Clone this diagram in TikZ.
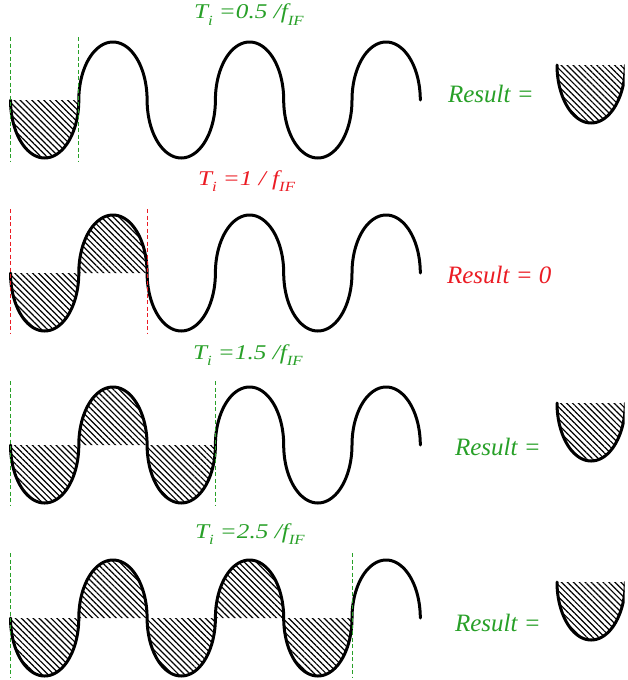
\documentclass[tikz,border=0pt]{standalone}
\usepackage{fontspec}
\setmainfont{Liberation Serif}
\usetikzlibrary{patterns.meta}
\definecolor{grn}{RGB}{40,160,40}
\definecolor{rd}{RGB}{235,28,36}
\newcommand{\lowtxt}[1]{\raisebox{-0.3em}{\fontsize{14}{14}\selectfont #1}}
\newcommand{\tlabel}[1]{\scalebox{1.2}[1]{\fontsize{21}{21}\selectfont\itshape #1}}
% half period: start x, midline y, sign (+1 trough, -1 peak)
\newcommand{\halfpath}[3]{plot[domain=0:180,samples=61,variable=\t] ({#1+34.15*(1-cos(\t))},{#2+(#3)*58*sin(\t)})}
\newcommand{\halfseg}[3]{-- plot[domain=0:180,samples=61,variable=\t] ({#1+34.15*(1-cos(\t))},{#2+(#3)*58*sin(\t)})}
\tikzset{
  wave/.style={line width=3pt, line join=round, line cap=round},
  hatchfill/.style={pattern={Lines[angle=-45,distance=4.2pt,line width=1.2pt]}},
  gline/.style={draw=grn, dash pattern=on 4pt off 2.5pt, line width=0.9pt},
  rline/.style={draw=rd, dash pattern=on 4pt off 2.5pt, line width=0.9pt},
  lbl/.style={anchor=base west, inner sep=0pt, outer sep=0pt},
  res/.style={anchor=base west, inner sep=0pt, outer sep=0pt, font=\fontsize{25}{25}\selectfont\itshape}
}
\begin{document}
\begin{tikzpicture}[x=1pt,y=-1pt]
\useasboundingbox (0,0) rectangle (627,680);
% ---------- row 1 ----------
\fill[hatchfill] \halfpath{10.5}{100}{1} -- cycle;
\draw[wave] (10.5,100) \foreach \k in {0,...,5} { \halfseg{10.5+68.3*\k}{100}{1-2*mod(\k,2)} };
\coordinate (a1) at (10.5,37); \coordinate (a2) at (10.5,162);
\coordinate (b1) at (78.8,37); \coordinate (b2) at (78.8,162);
\draw[gline] (a1) -- (a2);
\draw[gline] (b1) -- (b2);
\node[lbl, text=grn] (t1) at (194,19) {\tlabel{T\lowtxt{i} =0.5 /f\lowtxt{IF}}};
\node[res, text=grn] (r1) at (448,102) {Result =};
\begin{scope}
  \clip (540,60) rectangle (624.5,140);
  \fill[hatchfill] \halfpath{557}{65}{1} -- cycle;
  \draw[wave] \halfpath{557}{65}{1};
\end{scope}
% ---------- row 2 ----------
\fill[hatchfill] \halfpath{10.5}{273}{1} -- cycle;
\fill[hatchfill] \halfpath{78.8}{273}{-1} -- cycle;
\draw[wave] (10.5,273) \foreach \k in {0,...,5} { \halfseg{10.5+68.3*\k}{273}{1-2*mod(\k,2)} };
\coordinate (c1) at (10.5,209); \coordinate (c2) at (10.5,333);
\coordinate (d1) at (147.1,209); \coordinate (d2) at (147.1,333);
\draw[rline] (c1) -- (c2);
\draw[rline] (d1) -- (d2);
\node[lbl, text=rd] (t2) at (198,185) {\tlabel{T\lowtxt{i} =1 / f\lowtxt{IF}}};
\node[res, text=rd] (r2) at (447,283) {Result = 0};
% ---------- row 3 ----------
\foreach \k in {0,1,2} { \fill[hatchfill] \halfpath{10.5+68.3*\k}{445}{1-2*mod(\k,2)} -- cycle; }
\draw[wave] (10.5,445) \foreach \k in {0,...,5} { \halfseg{10.5+68.3*\k}{445}{1-2*mod(\k,2)} };
\coordinate (e1) at (10.5,381); \coordinate (e2) at (10.5,505);
\coordinate (f1) at (215.4,381); \coordinate (f2) at (215.4,505);
\draw[gline] (e1) -- (e2);
\draw[gline] (f1) -- (f2);
\node[lbl, text=grn] (t3) at (193,359) {\tlabel{T\lowtxt{i} =1.5 /f\lowtxt{IF}}};
\node[res, text=grn] (r3) at (455,455) {Result =};
\begin{scope}
  \clip (540,398) rectangle (624.5,480);
  \fill[hatchfill] \halfpath{557}{403}{1} -- cycle;
  \draw[wave] \halfpath{557}{403}{1};
\end{scope}
% ---------- row 4 ----------
\foreach \k in {0,...,4} { \fill[hatchfill] \halfpath{10.5+68.3*\k}{618}{1-2*mod(\k,2)} -- cycle; }
\draw[wave] (10.5,618) \foreach \k in {0,...,5} { \halfseg{10.5+68.3*\k}{618}{1-2*mod(\k,2)} };
\coordinate (g1) at (10.5,553); \coordinate (g2) at (10.5,678);
\coordinate (h1) at (352,553); \coordinate (h2) at (352,678);
\draw[gline] (g1) -- (g2);
\draw[gline] (h1) -- (h2);
\node[lbl, text=grn] (t4) at (195,538) {\tlabel{T\lowtxt{i} =2.5 /f\lowtxt{IF}}};
\node[res, text=grn] (r4) at (455,631) {Result =};
\begin{scope}
  \clip (540,577) rectangle (624.5,660);
  \fill[hatchfill] \halfpath{557}{582}{1} -- cycle;
  \draw[wave] \halfpath{557}{582}{1};
\end{scope}
\end{tikzpicture}
\end{document}
